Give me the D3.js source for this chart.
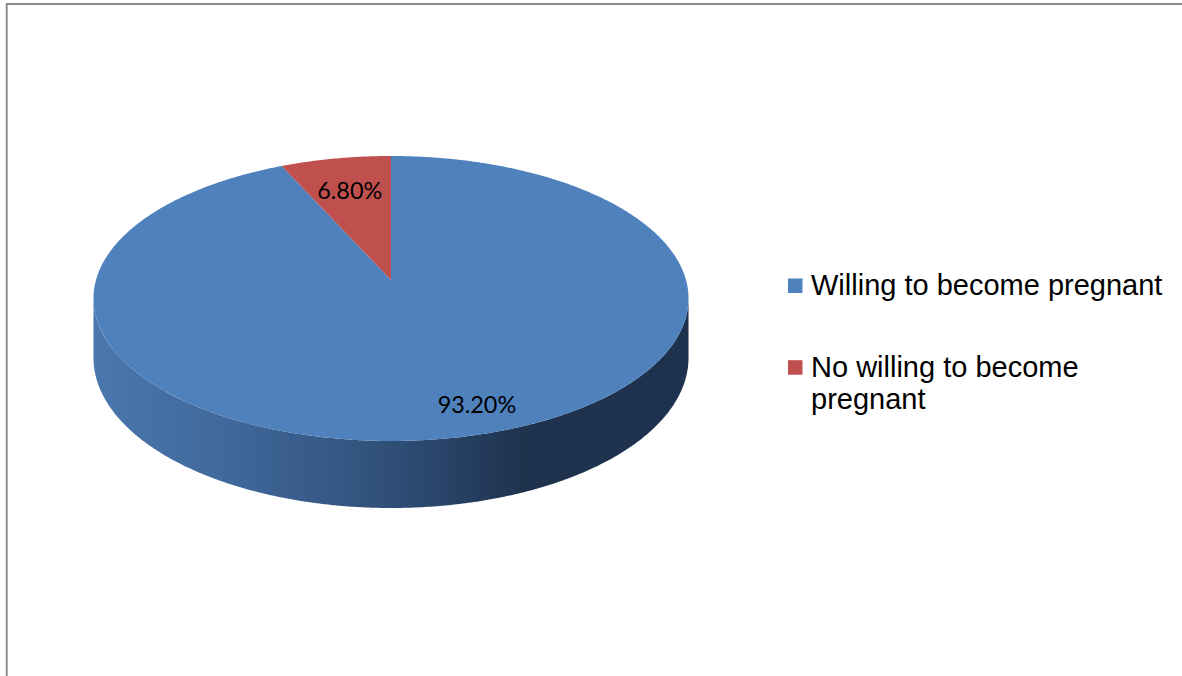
<!DOCTYPE html>
<html>
<head>
<meta charset="utf-8">
<script src="https://cdn.jsdelivr.net/npm/d3@7"></script>
<style>
  html, body { margin: 0; padding: 0; background: #fff; }
  svg { display: block; }
</style>
</head>
<body>
<svg id="chart" width="1182" height="676"></svg>
<script>
// Survey answers
const categories = ["Willing to become pregnant", "No willing to become pregnant"];
const values = [93.2, 6.8];
const valueLabels = ["93.20%", "6.80%"];
const sliceColors = ["#4f81bd", "#c0504d"];

const W = 1182, H = 676;
const svg = d3.select("#chart");

// Chart frame (only top and left edges fall inside the view)
svg.append("rect")
  .attr("x", 6.7).attr("y", 4).attr("width", W + 20).attr("height", H + 20)
  .attr("fill", "none").attr("stroke", "#878787").attr("stroke-width", 1.9);

// Tilted disc with a mild perspective: far edge smaller than near edge
const cx = 391, cy = 280;      // projected centre of the top face
const RX = 295, RY = 140.1;    // horizontal / vertical radii before perspective
const persp = 0.1298;          // perspective strength
const depth = 58.3;            // thickness of the disc

function project(a, r = 1, drop = 0) {
  const X = Math.sin(a) * r, Z = Math.cos(a) * r;
  const s = 1 / (1 + persp * Z);
  return [cx + RX * X * s, cy - RY * Z * s + drop * s];
}

function arcPoints(a0, a1, r, drop) {
  const n = Math.max(2, Math.ceil(Math.abs(a1 - a0) / (Math.PI / 360)));
  return d3.range(n + 1).map(i => project(a0 + (a1 - a0) * i / n, r, drop));
}

const line = d3.line();
const pie = d3.pie().sort(null).value(d => d)(values);

// Side wall shading
const defs = svg.append("defs");
const grad = defs.append("linearGradient")
  .attr("id", "wall").attr("gradientUnits", "userSpaceOnUse")
  .attr("x1", cx - RX).attr("x2", cx + RX).attr("y1", 0).attr("y2", 0);
[[0, "#4a77ae"], [0.25, "#3f6698"], [0.5, "#2f4f78"], [0.72, "#1f334f"], [1, "#1e324f"]]
  .forEach(([o, c]) => grad.append("stop").attr("offset", o).attr("stop-color", c));

// Visible wall spans between the two silhouette points of the rim
const aL = Math.acos(-persp), aR = 2 * Math.PI - Math.acos(-persp);
pie.forEach((p, i) => {
  const s0 = Math.max(p.startAngle, aL), s1 = Math.min(p.endAngle, aR);
  if (s1 <= s0) return;
  const top = arcPoints(s0, s1, 1, 0);
  const bottom = arcPoints(s1, s0, 1, depth);
  svg.append("path")
    .attr("d", line(top.concat(bottom)) + "Z")
    .attr("fill", i === 0 ? "url(#wall)" : d3.color(sliceColors[i]).darker(1.2));
});

// Top face slices
pie.forEach((p, i) => {
  const pts = [[cx, cy]].concat(arcPoints(p.startAngle, p.endAngle, 1, 0));
  svg.append("path")
    .attr("d", line(pts) + "Z")
    .attr("fill", sliceColors[i]);
});

// Value labels placed inside each slice
const labelPlacement = [{ shift: -0.105, r: 0.834 }, { shift: 0, r: 0.72 }];
pie.forEach((p, i) => {
  const mid = (p.startAngle + p.endAngle) / 2 + labelPlacement[i].shift;
  const [x, y] = project(mid, labelPlacement[i].r, 0);
  svg.append("text")
    .attr("x", x).attr("y", y)
    .attr("text-anchor", "middle")
    .attr("dominant-baseline", "central")
    .attr("font-family", "Lato, 'Open Sans', sans-serif")
    .attr("font-size", 23.4)
    .attr("fill", "#000")
    .text(valueLabels[i]);
});

// Legend
const legendX = 788, textX = 811, maxTextWidth = 362, lineH = 32;
const legendFont = "'Liberation Sans', Arial, sans-serif";
let baseY = 295;
categories.forEach((name, i) => {
  svg.append("rect")
    .attr("x", legendX).attr("y", baseY - 16.5)
    .attr("width", 14.5).attr("height", 14.5)
    .attr("fill", sliceColors[i]);
  const t = svg.append("text")
    .attr("x", textX).attr("y", baseY)
    .attr("font-family", legendFont)
    .attr("font-size", 29)
    .attr("fill", "#000");
  // wrap words to the available width
  const words = name.split(" ");
  let lineWords = [], nLines = 0;
  let tspan = t.append("tspan").attr("x", textX).attr("dy", 0);
  words.forEach(w => {
    lineWords.push(w);
    tspan.text(lineWords.join(" "));
    if (tspan.node().getComputedTextLength() > maxTextWidth && lineWords.length > 1) {
      lineWords.pop();
      tspan.text(lineWords.join(" "));
      lineWords = [w];
      nLines++;
      tspan = t.append("tspan").attr("x", textX).attr("dy", lineH).text(w);
    }
  });
  baseY += 81.7 + nLines * lineH;
});
</script>
</body>
</html>
